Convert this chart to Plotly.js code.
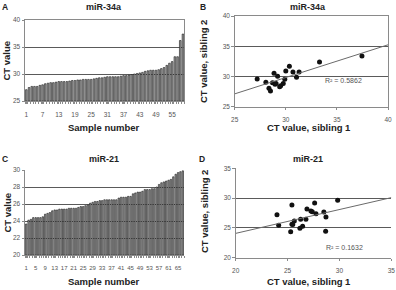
<!DOCTYPE html>
<html>
<head>
<meta charset="utf-8">
<script src="https://cdn.plot.ly/plotly-3.0.1.min.js"></script>
<style>
  html, body { margin: 0; padding: 0; background: #fff; }
  #chart { width: 396px; height: 290px; }
</style>
</head>
<body>
<div id="chart"></div>
<script>
// miR-34a CT values per sample, sorted ascending
const mir34aCT = [
  27.1, 27.5, 27.7, 27.7, 27.7, 27.9, 28.0, 28.2, 28.3, 28.4,
  28.4, 28.5, 28.6, 28.6, 28.6, 28.6, 28.7, 28.8, 28.8, 28.9,
  28.9, 29.0, 29.0, 29.0, 29.0, 29.1, 29.2, 29.3, 29.3, 29.4,
  29.5, 29.5, 29.5, 29.5, 29.5, 29.6, 29.7, 29.7, 29.8, 29.9,
  30.0, 30.1, 30.2, 30.3, 30.5, 30.6, 30.7, 30.7, 30.7, 30.8,
  31.0, 31.2, 31.6, 32.0, 32.3, 33.2, 33.2, 36.2, 37.4
];

// miR-21 CT values per sample, sorted ascending
const mir21CT = [
  23.65, 24.1, 24.2, 24.4, 24.4, 24.4, 24.4, 24.5, 24.8, 24.9,
  25.0, 25.2, 25.3, 25.3, 25.4, 25.4, 25.4, 25.4, 25.5, 25.5,
  25.5, 25.5, 25.6, 25.7, 25.7, 25.8, 25.9, 26.1, 26.2, 26.3,
  26.3, 26.4, 26.4, 26.5, 26.5, 26.5, 26.5, 26.5, 26.5, 26.7,
  26.8, 26.8, 26.8, 26.9, 26.9, 27.2, 27.3, 27.4, 27.4, 27.5,
  27.7, 27.7, 27.7, 27.8, 27.8, 28.0, 28.3, 28.5, 28.6, 28.7,
  28.8, 28.9, 29.2, 29.5, 29.7, 29.8, 29.9
];

// Sibling pairs, miR-34a
const mir34aSib1 = [27.2, 28.05, 28.35, 28.5, 28.7, 28.85, 28.95, 29.05, 29.2, 29.4,
                    29.5, 29.75, 29.9, 30.0, 30.35, 30.7, 31.05, 31.3, 33.3, 37.45];
const mir34aSib2 = [29.6, 29.05, 28.05, 27.6, 28.95, 30.55, 28.7, 28.85, 30.05, 28.3,
                    28.45, 28.85, 29.55, 30.9, 31.7, 30.75, 29.85, 30.75, 32.4, 33.4];

// Sibling pairs, miR-21
const mir21Sib1 = [23.98, 24.14, 25.42, 25.3, 25.42, 25.5, 25.65, 26.26, 26.19, 26.45,
                   26.77, 26.87, 27.25, 27.38, 27.61, 27.74, 28.5, 28.7, 28.67, 29.83];
const mir21Sib2 = [27.22, 25.43, 28.84, 24.36, 25.6, 25.55, 26.16, 26.44, 24.93, 25.27,
                   26.44, 28.17, 27.84, 27.72, 29.18, 27.38, 27.67, 26.83, 24.43, 29.63];

// Tick labels on the sample axes
const mir34aTicks = [1, 7, 13, 19, 25, 31, 37, 43, 49, 55];
const mir21Ticks = [1, 5, 9, 13, 17, 21, 25, 29, 33, 37, 41, 45, 49, 53, 57, 61, 65];

const mir34aR2Label = 'R\u00B2 = 0.5862';
const mir21R2Label = 'R\u00B2 = 0.1632';

// Ordinary least-squares fit for the trend lines
function linearFit(xs, ys) {
  const n = xs.length;
  const mx = xs.reduce((a, b) => a + b, 0) / n;
  const my = ys.reduce((a, b) => a + b, 0) / n;
  let sxy = 0, sxx = 0;
  for (let i = 0; i < n; i++) {
    sxy += (xs[i] - mx) * (ys[i] - my);
    sxx += (xs[i] - mx) * (xs[i] - mx);
  }
  const slope = sxy / sxx;
  return { slope, intercept: my - slope * mx };
}

function trendTrace(xs, ys, range, xa, ya) {
  const f = linearFit(xs, ys);
  return {
    x: range, y: range.map(v => f.intercept + f.slope * v),
    type: 'scatter', mode: 'lines', xaxis: xa, yaxis: ya,
    line: { color: '#6a6a6a', width: 1 }, hoverinfo: 'skip'
  };
}

const idx = arr => arr.map((_, i) => i + 1);

const barStyle = { color: '#9c9c9c', line: { color: '#1a1a1a', width: 0.6 } };
const dotStyle = { color: '#111', size: 5 };

const traces = [
  { x: idx(mir34aCT), y: mir34aCT.map(v => v - 25), base: 25, type: 'bar', xaxis: 'x', yaxis: 'y', marker: barStyle },
  { x: mir34aSib1, y: mir34aSib2, type: 'scatter', mode: 'markers', xaxis: 'x2', yaxis: 'y2', marker: dotStyle },
  trendTrace(mir34aSib1, mir34aSib2, [25, 40], 'x2', 'y2'),
  { x: idx(mir21CT), y: mir21CT.map(v => v - 20), base: 20, type: 'bar', xaxis: 'x3', yaxis: 'y3', marker: barStyle },
  { x: mir21Sib1, y: mir21Sib2, type: 'scatter', mode: 'markers', xaxis: 'x4', yaxis: 'y4', marker: dotStyle },
  trendTrace(mir21Sib1, mir21Sib2, [20, 35], 'x4', 'y4')
];

const W = 396, H = 290;
const px = v => v / W;
const py = v => 1 - v / H;

const FAMILY = 'Liberation Sans, Arial, sans-serif';
const tickFont = { family: FAMILY, size: 6.5, color: '#555555' };
const gridColor = '#5a5a5a';
const axisColor = '#8a8a8a';

function valueAxis(domain, range, dtick, mirror) {
  return {
    domain, range, dtick, tick0: range[0], showgrid: true, gridcolor: gridColor, gridwidth: 1,
    zeroline: false, showline: true, linecolor: axisColor, linewidth: 1, mirror: mirror,
    ticks: 'outside', ticklen: 2.5, tickcolor: axisColor, tickfont: tickFont, fixedrange: true,
    tickangle: 0
  };
}

function sampleAxis(domain, n, ticks, anchor, fontSize) {
  return {
    domain, range: [0.5, n + 0.5], tickmode: 'array', tickvals: ticks, ticktext: ticks.map(String),
    showgrid: false, zeroline: false, showline: true, linecolor: axisColor, linewidth: 1,
    ticks: 'outside', ticklen: 2, tickcolor: axisColor, ticklabelstandoff: 5,
    tickfont: Object.assign({}, tickFont, { size: fontSize }), tickangle: 0, anchor, fixedrange: true,
    minor: { ticks: 'outside', tick0: 0.5, dtick: 1, ticklen: 2, tickcolor: axisColor, showgrid: false }
  };
}

const layout = {
  width: W, height: H, margin: { l: 0, r: 0, t: 0, b: 0 },
  paper_bgcolor: '#fff', plot_bgcolor: '#fff', showlegend: false, bargap: 0.4,
  font: { family: FAMILY, color: '#222' },
  xaxis: Object.assign(sampleAxis([px(25), px(184.3)], mir34aCT.length, mir34aTicks, 'y', 6.5), { mirror: true }),
  yaxis: Object.assign(valueAxis([py(101), py(20)], [25, 40], 5, true), { anchor: 'x' }),
  xaxis2: Object.assign(valueAxis([px(234.7), px(388)], [25, 40], 5, true), { anchor: 'y2', showgrid: false, ticklabelstandoff: 4 }),
  yaxis2: Object.assign(valueAxis([py(106.7), py(16)], [25, 40], 5, true), { anchor: 'x2' }),
  xaxis3: sampleAxis([px(25), px(184)], mir21CT.length, mir21Ticks, 'y3', 6),
  yaxis3: Object.assign(valueAxis([py(255), py(170)], [20, 30], 2, false), { anchor: 'x3' }),
  xaxis4: Object.assign(valueAxis([px(235.7), px(391.3)], [20, 35], 5, false), { anchor: 'y4', showgrid: false, ticklabelstandoff: 4 }),
  yaxis4: Object.assign(valueAxis([py(257.7), py(168.3)], [20, 35], 5, false), { anchor: 'x4' }),
  annotations: []
};

function label(text, x, y, opts) {
  layout.annotations.push(Object.assign({
    text, x: px(x), y: py(y), xref: 'paper', yref: 'paper', showarrow: false,
    xanchor: 'center', yanchor: 'middle',
    font: { family: FAMILY, size: 9, color: '#222' }
  }, opts || {}));
}

const bold = s => '<b>' + s + '</b>';
const letterFont = { family: FAMILY, size: 8.5, color: '#222' };
const titleFont = { family: FAMILY, size: 9, color: '#222' };
const axisTitleFont = { family: FAMILY, size: 9.5, color: '#222' };
const r2Font = { family: FAMILY, size: 7, color: '#555555' };

// Panel letters
label(bold('A'), 5, 7.5, { font: letterFont });
label(bold('B'), 203, 7.5, { font: letterFont });
label(bold('C'), 5, 159, { font: letterFont });
label(bold('D'), 202, 159, { font: letterFont });

// Panel titles
label(bold('miR-34a'), 103.5, 7.5, { font: titleFont });
label(bold('miR-34a'), 308, 7.5, { font: titleFont });
label(bold('miR-21'), 103.5, 158.5, { font: titleFont });
label(bold('miR-21'), 308, 158.5, { font: titleFont });

// Axis titles
label(bold('Sample number'), 103.5, 127.5, { font: axisTitleFont });
label(bold('CT value'), 6.5, 61, { font: axisTitleFont, textangle: -90 });
label(bold('CT value, sibling 1'), 309, 127.5, { font: axisTitleFont });
label(bold('CT value, sibling 2'), 204, 62, { font: axisTitleFont, textangle: -90 });
label(bold('Sample number'), 103.5, 281.5, { font: axisTitleFont });
label(bold('CT value'), 6.5, 213, { font: axisTitleFont, textangle: -90 });
label(bold('CT value, sibling 1'), 309, 281.5, { font: axisTitleFont });
label(bold('CT value, sibling 2'), 204, 212, { font: axisTitleFont, textangle: -90 });

// Coefficient of determination labels
label(mir34aR2Label, 343, 80.5, { font: r2Font });
label(mir21R2Label, 344, 247.5, { font: r2Font });

Plotly.newPlot('chart', traces, layout, { displayModeBar: false, staticPlot: true });
</script>
</body>
</html>
